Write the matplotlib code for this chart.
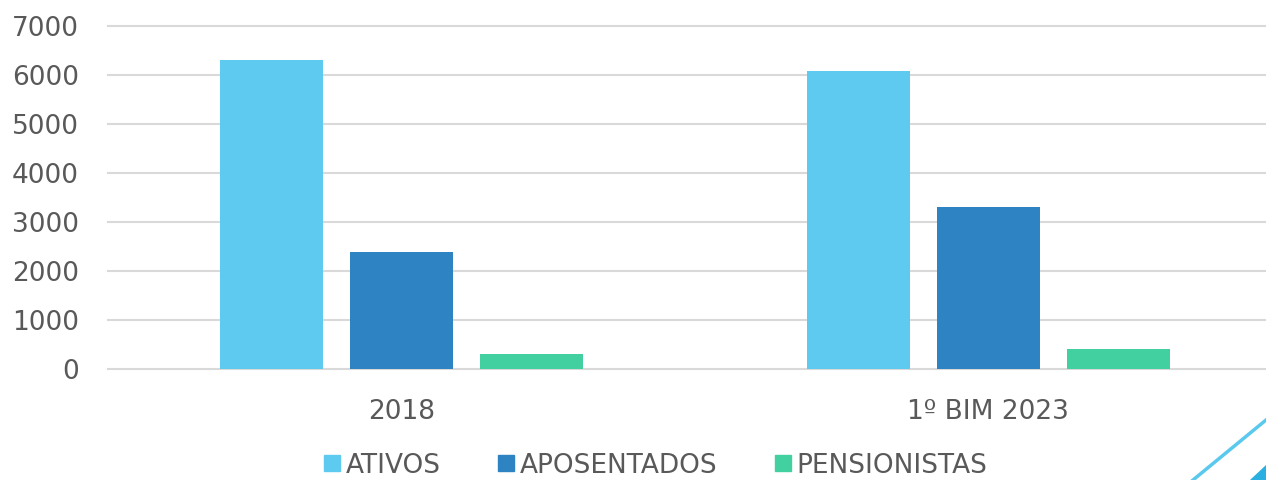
import numpy as np
import matplotlib.pyplot as plt
from matplotlib.lines import Line2D
from matplotlib.patches import Polygon

# dados
categorias = ['2018', '1º BIM 2023']
series = ['ATIVOS', 'APOSENTADOS', 'PENSIONISTAS']
ativos = [6310, 6075]
aposentados = [2385, 3300]
pensionistas = [295, 400]
cores = ['#5FCAEF', '#2E83C3', '#43D0A0']
yticks = [0, 1000, 2000, 3000, 4000, 5000, 6000, 7000]

plt.rcParams['font.family'] = ['DejaVu Sans']
cinza = '#595959'

fig = plt.figure(figsize=(12.66, 4.8), dpi=100)
ax = fig.add_axes([0.0853, 0.2319, 0.927, 0.714])

x = np.arange(len(categorias))
largura = 0.1756
passo = 0.2217
valores = [ativos, aposentados, pensionistas]
for i, (nome, v) in enumerate(zip(series, valores)):
    ax.bar(x + (i - 1) * passo, v, largura, color=cores[i], label=nome, zorder=3)

ax.set_xlim(-0.5, 1.5)
ax.set_ylim(0, 7000)
ax.set_yticks(yticks)
ax.set_xticks(x)
ax.set_xticklabels(categorias)
ax.grid(axis='y', color='#D9D9D9', linewidth=1.5, zorder=0)
for g in ax.get_ygridlines():
    g.set_clip_on(False)
for s in ax.spines.values():
    s.set_visible(False)
ax.tick_params(axis='both', length=0, labelsize=19, colors=cinza)
ax.tick_params(axis='y', pad=21)
ax.tick_params(axis='x', pad=22)

handles = [Line2D([], [], marker='s', linestyle='none', markersize=12,
                  markerfacecolor=c, markeredgecolor=c) for c in cores]
fig.legend(handles, series, loc='center', bbox_to_anchor=(0.517, 0.03), ncol=3,
           frameon=False, fontsize=19, labelcolor=cinza, handletextpad=0.1,
           columnspacing=2.1, handlelength=0.8)

# detalhe decorativo no canto
fig.add_artist(Line2D([1193 / 1266, 1.0], [0.0, 60 / 480], color='#5BC8EE',
                      linewidth=2.5, transform=fig.transFigure))
fig.add_artist(Polygon([[1250 / 1266, 0.0], [1.0, 0.0], [1.0, 15 / 480]],
                       closed=True, color='#2AB0E0', transform=fig.transFigure))

fig.savefig('out.png', dpi=100)
